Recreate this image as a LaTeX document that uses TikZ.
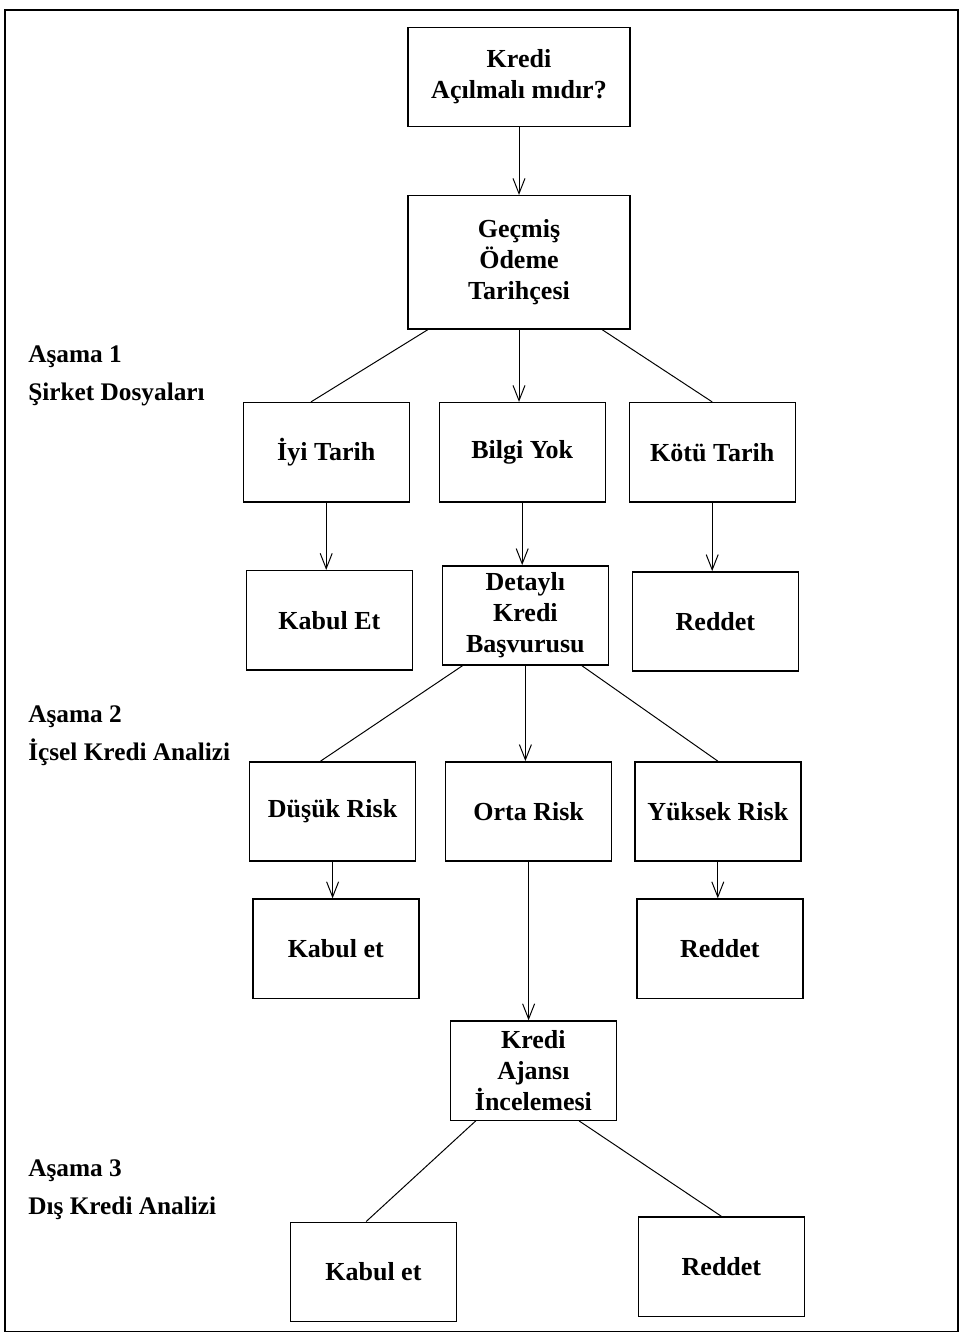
\documentclass[tikz,border=0pt]{standalone}
\usepackage{fontspec}
\setmainfont{Liberation Serif}
\usetikzlibrary{positioning,arrows.meta}

\begin{document}
\begin{tikzpicture}[
        box/.style={draw, line width=1pt, minimum width=4.15cm, minimum height=2.48cm,
            align=center, inner sep=2pt, font=\fontsize{18.5}{22}\selectfont\bfseries},
        bigbox/.style={box, minimum width=5.55cm},
        stage/.style={anchor=west, align=left, inner sep=0pt,
            font=\fontsize{18}{27}\selectfont\bfseries},
        arr/.style={line width=0.7pt, -{Straight Barb[length=3.8mm,width=3mm]}},
        link/.style={line width=0.7pt},
        auto
        ]
        \useasboundingbox (0,0) rectangle (24.375,-33.4);
        \draw[line width=1pt] (0.12,-0.25) rectangle (23.95,-33.28);

        \node (kredi) [bigbox] at (12.975,-1.925) {Kredi\\Açılmalı mıdır?};
        \node (gecmis) [bigbox, minimum height=3.33cm, node distance=4.63cm, below of=kredi] {Geçmiş\\Ödeme\\Tarihçesi};

        % asama 1
        \node (bilgi) [box, node distance=4.75cm, below of=gecmis, xshift=0.08cm] {Bilgi Yok};
        \node (iyi) [box, node distance=4.9cm, left of=bilgi] {İyi Tarih};
        \node (kotu) [box, node distance=4.75cm, right of=bilgi] {Kötü Tarih};
        \node (kabulA) [box, node distance=4.2cm, below of=iyi, xshift=0.08cm] {Kabul Et};
        \node (detayli) [box, node distance=4.08cm, below of=bilgi, xshift=0.08cm] {Detaylı\\Kredi\\Başvurusu};
        \node (reddetA) [box, node distance=4.23cm, below of=kotu, xshift=0.08cm] {Reddet};

        % asama 2
        \node (orta) [box, node distance=4.9cm, below of=detayli, xshift=0.08cm] {Orta Risk};
        \node (dusuk) [box, node distance=4.9cm, left of=orta] {Düşük Risk};
        \node (yuksek) [box, node distance=4.73cm, right of=orta] {Yüksek Risk};
        \node (kabulB) [box, node distance=3.43cm, below of=dusuk, xshift=0.08cm] {Kabul et};
        \node (reddetB) [box, node distance=3.43cm, below of=yuksek, xshift=0.05cm] {Reddet};

        % asama 3
        \node (ajans) [box, node distance=6.48cm, below of=orta, xshift=0.12cm] {Kredi\\Ajansı\\İncelemesi};
        \node (kabulC) [box, node distance=5.03cm, below of=ajans, xshift=-4cm] {Kabul et};
        \node (reddetC) [box, node distance=4.9cm, below of=ajans, xshift=4.7cm] {Reddet};

        \node (asama1) [stage] at (0.7,-9.4) {Aşama 1\\Şirket Dosyaları};
        \node (asama2) [stage] at (0.7,-18.4) {Aşama 2\\İçsel Kredi Analizi};
        \node (asama3) [stage] at (0.7,-29.75) {Aşama 3\\Dış Kredi Analizi};

        % straight arrows down the tree, kept vertical
        \path[arr]
        (kredi)     edge    (kredi |- gecmis.north)
        (gecmis)    edge    (gecmis |- bilgi.north)
        (iyi)       edge    (iyi |- kabulA.north)
        (bilgi)     edge    (bilgi |- detayli.north)
        (kotu)      edge    (kotu |- reddetA.north)
        (detayli)   edge    (detayli |- orta.north)
        (dusuk)     edge    (dusuk |- kabulB.north)
        (yuksek)    edge    (yuksek |- reddetB.north)
        (orta)      edge    (orta |- ajans.north)
        ;

        % plain branch lines
        \path[link]
        ([xshift=0.52cm]gecmis.south west)   edge    ([xshift=-0.38cm]iyi.north)
        ([xshift=-0.72cm]gecmis.south east)  edge    (kotu.north)
        ([xshift=0.52cm]detayli.south west)  edge    ([xshift=-0.3cm]dusuk.north)
        ([xshift=-0.68cm]detayli.south east) edge    (yuksek.north)
        ([xshift=0.65cm]ajans.south west)    edge    ([xshift=-0.18cm]kabulC.north)
        ([xshift=-0.95cm]ajans.south east)   edge    (reddetC.north)
        ;
    \end{tikzpicture}
\end{document}
